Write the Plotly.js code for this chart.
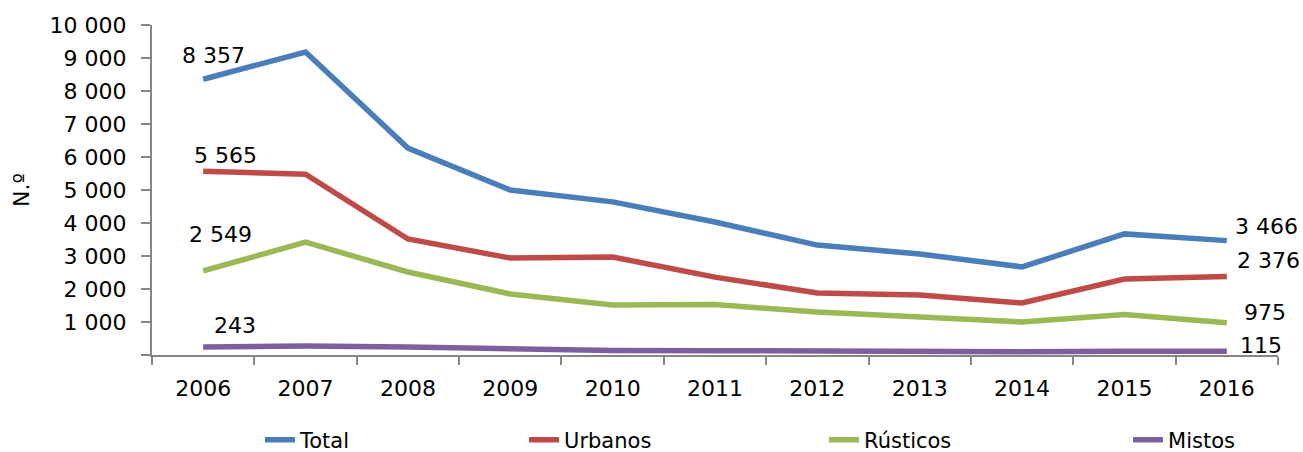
<!DOCTYPE html>
<html><head><meta charset="utf-8">
<script src="https://cdn.plot.ly/plotly-3.0.1.min.js"></script>
<style>body{margin:0;padding:0;background:#fff}#chart{width:1303px;height:452px}</style>
</head><body><div id="chart"></div>
<script>
const years = ['2006','2007','2008','2009','2010','2011','2012','2013','2014','2015','2016'];
const total    = [8357, 9180, 6270, 5000, 4640, 4030, 3330, 3060, 2670, 3670, 3466];
const urbanos  = [5565, 5480, 3515, 2940, 2970, 2360, 1880, 1820, 1575, 2300, 2376];
const rusticos = [2549, 3420, 2515, 1850, 1515, 1530, 1300, 1150, 1000, 1230, 975];
const mistos   = [243, 270, 240, 170, 140, 130, 110, 100, 100, 115, 115];
const seriesNames = ['Total','Urbanos','Rústicos','Mistos'];
const yTickVals = [0,1000,2000,3000,4000,5000,6000,7000,8000,9000,10000];
const yTickText = ['','1 000','2 000','3 000','4 000','5 000','6 000','7 000','8 000','9 000','10 000'];

const colors = ['#4A7EBB','#BE4B48','#98B954','#7D5FA0'];
const all = [total, urbanos, rusticos, mistos];
const legendIds = ['legend','legend2','legend3','legend4'];
const legendX = [0.0959, 0.3304, 0.5968, 0.8668];
const fmt = v => String(v).replace(/\B(?=(\d{3})+(?!\d))/g,' ');

const traces = all.map((d,i)=>({
  x: years, y: d, name: seriesNames[i], type:'scatter', mode:'lines',
  line:{color:colors[i], width:5.5}, legend: legendIds[i]
}));

const firstShift = [[10,24],[22,16],[17,36],[32,21]];
const lastShift  = [[40,14],[42,16],[38,10],[34,6]];
const annotations = [];
all.forEach((d,i)=>{
  annotations.push({xref:'x', yref:'y', x:0, y:d[0], text:fmt(d[0]), showarrow:false,
    xshift:firstShift[i][0], yshift:firstShift[i][1], font:{size:22,color:'#000'}});
  const n=d.length-1;
  annotations.push({xref:'x', yref:'y', x:n, y:d[n], text:fmt(d[n]), showarrow:false,
    xshift:lastShift[i][0], yshift:lastShift[i][1], font:{size:22,color:'#000'}});
});

const layout = {
  width:1303, height:452,
  margin:{l:152, r:25, t:25, b:97, autoexpand:false},
  paper_bgcolor:'#fff', plot_bgcolor:'#fff',
  font:{family:'DejaVu Sans, Verdana, sans-serif', size:20, color:'#000'},
  showlegend:true,
  xaxis:{type:'category', range:[-0.5,10.5], showgrid:false, zeroline:false,
    showline:true, linecolor:'#868686', linewidth:2,
    ticks:'outside', tickson:'boundaries', ticklen:8, tickcolor:'#868686', tickwidth:2,
    ticklabelstandoff:13, tickfont:{size:22}},
  yaxis:{range:[0,10000], showgrid:false, zeroline:false,
    showline:true, linecolor:'#868686', linewidth:2,
    tickvals:yTickVals, ticktext:yTickText,
    ticks:'outside', ticklen:9, tickcolor:'#868686', tickwidth:2,
    ticklabelstandoff:10, tickfont:{size:22},
    title:{text:'N.º', font:{size:22}, standoff:14}},
  annotations: annotations
};
legendIds.forEach((id,i)=>{
  layout[id] = {orientation:'h', x:legendX[i], xanchor:'left', y:-0.258, yanchor:'middle',
    font:{size:21}, bgcolor:'rgba(0,0,0,0)'};
});
Plotly.newPlot('chart', traces, layout, {displayModeBar:false});
</script></body></html>
